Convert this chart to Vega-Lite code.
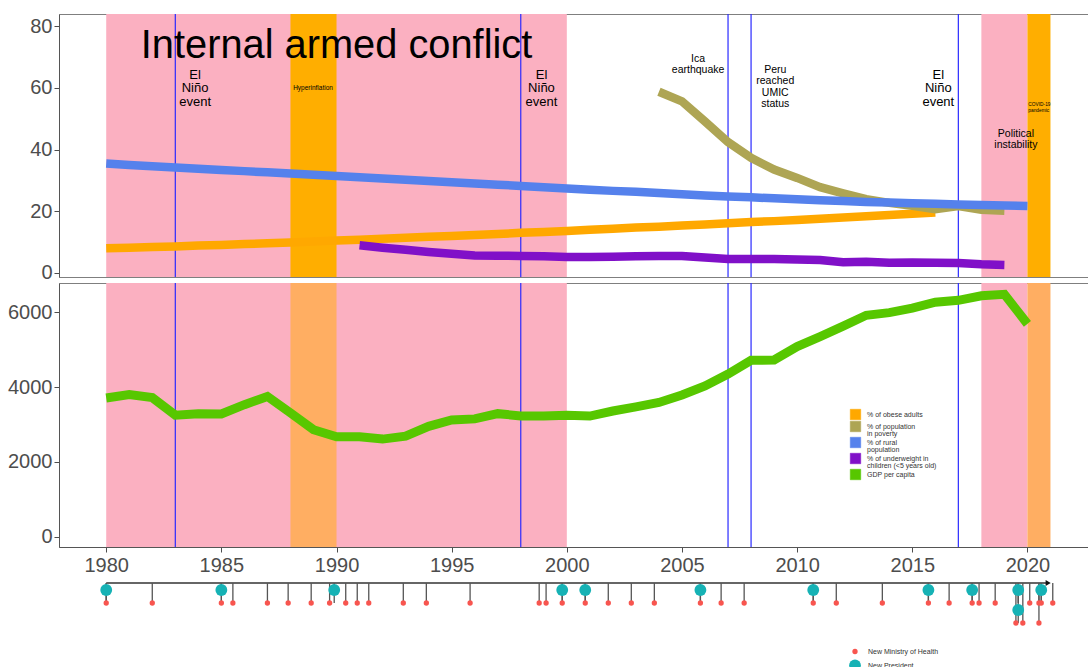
{
  "$schema": "https://vega.github.io/schema/vega-lite/v6.json",
  "padding": {"left": 6, "top": 12, "right": 0, "bottom": 0},
  "spacing": 6,
  "bounds": "flush",
  "background": "white",
  "config": {
    "font": "Liberation Sans",
    "concat": {"spacing": 6},
    "view": {"stroke": "#7f7f7f", "strokeWidth": 1},
    "axis": {"labelFontSize": 20, "labelColor": "#4d4d4d", "labelFont": "Liberation Sans", "tickColor": "#4d4d4d", "domainColor": "#555555", "tickSize": 5, "grid": false, "labelPadding": 2, "title": null},
    "legend": {"labelFont": "Liberation Sans", "labelFontSize": 7, "labelColor": "#333333", "title": null}
  },
  "datasets": {
    "indicators": [
      {"year": 1980, "series": "% of obese adults", "value": 8.0},
      {"year": 1981, "series": "% of obese adults", "value": 8.2},
      {"year": 1982, "series": "% of obese adults", "value": 8.4},
      {"year": 1983, "series": "% of obese adults", "value": 8.6},
      {"year": 1984, "series": "% of obese adults", "value": 8.9},
      {"year": 1985, "series": "% of obese adults", "value": 9.1},
      {"year": 1986, "series": "% of obese adults", "value": 9.4},
      {"year": 1987, "series": "% of obese adults", "value": 9.6},
      {"year": 1988, "series": "% of obese adults", "value": 9.9},
      {"year": 1989, "series": "% of obese adults", "value": 10.2},
      {"year": 1990, "series": "% of obese adults", "value": 10.5},
      {"year": 1991, "series": "% of obese adults", "value": 10.8},
      {"year": 1992, "series": "% of obese adults", "value": 11.1},
      {"year": 1993, "series": "% of obese adults", "value": 11.4},
      {"year": 1994, "series": "% of obese adults", "value": 11.7},
      {"year": 1995, "series": "% of obese adults", "value": 12.0},
      {"year": 1996, "series": "% of obese adults", "value": 12.3},
      {"year": 1997, "series": "% of obese adults", "value": 12.6},
      {"year": 1998, "series": "% of obese adults", "value": 13.0},
      {"year": 1999, "series": "% of obese adults", "value": 13.3},
      {"year": 2000, "series": "% of obese adults", "value": 13.6},
      {"year": 2001, "series": "% of obese adults", "value": 14.0},
      {"year": 2002, "series": "% of obese adults", "value": 14.3},
      {"year": 2003, "series": "% of obese adults", "value": 14.7},
      {"year": 2004, "series": "% of obese adults", "value": 15.0},
      {"year": 2005, "series": "% of obese adults", "value": 15.4},
      {"year": 2006, "series": "% of obese adults", "value": 15.7},
      {"year": 2007, "series": "% of obese adults", "value": 16.1},
      {"year": 2008, "series": "% of obese adults", "value": 16.5},
      {"year": 2009, "series": "% of obese adults", "value": 16.8},
      {"year": 2010, "series": "% of obese adults", "value": 17.2},
      {"year": 2011, "series": "% of obese adults", "value": 17.6},
      {"year": 2012, "series": "% of obese adults", "value": 18.0},
      {"year": 2013, "series": "% of obese adults", "value": 18.4},
      {"year": 2014, "series": "% of obese adults", "value": 18.8},
      {"year": 2015, "series": "% of obese adults", "value": 19.2},
      {"year": 2016, "series": "% of obese adults", "value": 19.6},
      {"year": 2004, "series": "% of population in poverty", "value": 58.7},
      {"year": 2005, "series": "% of population in poverty", "value": 55.6},
      {"year": 2006, "series": "% of population in poverty", "value": 49.1},
      {"year": 2007, "series": "% of population in poverty", "value": 42.4},
      {"year": 2008, "series": "% of population in poverty", "value": 37.3},
      {"year": 2009, "series": "% of population in poverty", "value": 33.5},
      {"year": 2010, "series": "% of population in poverty", "value": 30.8},
      {"year": 2011, "series": "% of population in poverty", "value": 27.8},
      {"year": 2012, "series": "% of population in poverty", "value": 25.8},
      {"year": 2013, "series": "% of population in poverty", "value": 23.9},
      {"year": 2014, "series": "% of population in poverty", "value": 22.7},
      {"year": 2015, "series": "% of population in poverty", "value": 21.8},
      {"year": 2016, "series": "% of population in poverty", "value": 20.7},
      {"year": 2017, "series": "% of population in poverty", "value": 21.7},
      {"year": 2018, "series": "% of population in poverty", "value": 20.5},
      {"year": 2019, "series": "% of population in poverty", "value": 20.2},
      {"year": 1980, "series": "% of rural population", "value": 35.5},
      {"year": 1981, "series": "% of rural population", "value": 35.0},
      {"year": 1982, "series": "% of rural population", "value": 34.6},
      {"year": 1983, "series": "% of rural population", "value": 34.2},
      {"year": 1984, "series": "% of rural population", "value": 33.8},
      {"year": 1985, "series": "% of rural population", "value": 33.4},
      {"year": 1986, "series": "% of rural population", "value": 33.0},
      {"year": 1987, "series": "% of rural population", "value": 32.6},
      {"year": 1988, "series": "% of rural population", "value": 32.2},
      {"year": 1989, "series": "% of rural population", "value": 31.8},
      {"year": 1990, "series": "% of rural population", "value": 31.4},
      {"year": 1991, "series": "% of rural population", "value": 31.0},
      {"year": 1992, "series": "% of rural population", "value": 30.6},
      {"year": 1993, "series": "% of rural population", "value": 30.2},
      {"year": 1994, "series": "% of rural population", "value": 29.8},
      {"year": 1995, "series": "% of rural population", "value": 29.4},
      {"year": 1996, "series": "% of rural population", "value": 29.0},
      {"year": 1997, "series": "% of rural population", "value": 28.6},
      {"year": 1998, "series": "% of rural population", "value": 28.2},
      {"year": 1999, "series": "% of rural population", "value": 27.8},
      {"year": 2000, "series": "% of rural population", "value": 27.4},
      {"year": 2001, "series": "% of rural population", "value": 27.0},
      {"year": 2002, "series": "% of rural population", "value": 26.6},
      {"year": 2003, "series": "% of rural population", "value": 26.3},
      {"year": 2004, "series": "% of rural population", "value": 25.9},
      {"year": 2005, "series": "% of rural population", "value": 25.5},
      {"year": 2006, "series": "% of rural population", "value": 25.1},
      {"year": 2007, "series": "% of rural population", "value": 24.8},
      {"year": 2008, "series": "% of rural population", "value": 24.5},
      {"year": 2009, "series": "% of rural population", "value": 24.2},
      {"year": 2010, "series": "% of rural population", "value": 23.9},
      {"year": 2011, "series": "% of rural population", "value": 23.6},
      {"year": 2012, "series": "% of rural population", "value": 23.3},
      {"year": 2013, "series": "% of rural population", "value": 23.0},
      {"year": 2014, "series": "% of rural population", "value": 22.8},
      {"year": 2015, "series": "% of rural population", "value": 22.6},
      {"year": 2016, "series": "% of rural population", "value": 22.4},
      {"year": 2017, "series": "% of rural population", "value": 22.2},
      {"year": 2018, "series": "% of rural population", "value": 22.0},
      {"year": 2019, "series": "% of rural population", "value": 21.9},
      {"year": 2020, "series": "% of rural population", "value": 21.7},
      {"year": 1991, "series": "% of underweight in children (<5 years old)", "value": 9.0},
      {"year": 1992, "series": "% of underweight in children (<5 years old)", "value": 8.2},
      {"year": 1993, "series": "% of underweight in children (<5 years old)", "value": 7.5},
      {"year": 1994, "series": "% of underweight in children (<5 years old)", "value": 6.8},
      {"year": 1995, "series": "% of underweight in children (<5 years old)", "value": 6.2},
      {"year": 1996, "series": "% of underweight in children (<5 years old)", "value": 5.7},
      {"year": 1997, "series": "% of underweight in children (<5 years old)", "value": 5.6},
      {"year": 1998, "series": "% of underweight in children (<5 years old)", "value": 5.5},
      {"year": 1999, "series": "% of underweight in children (<5 years old)", "value": 5.4},
      {"year": 2000, "series": "% of underweight in children (<5 years old)", "value": 5.2},
      {"year": 2001, "series": "% of underweight in children (<5 years old)", "value": 5.2},
      {"year": 2002, "series": "% of underweight in children (<5 years old)", "value": 5.3},
      {"year": 2003, "series": "% of underweight in children (<5 years old)", "value": 5.4},
      {"year": 2004, "series": "% of underweight in children (<5 years old)", "value": 5.5},
      {"year": 2005, "series": "% of underweight in children (<5 years old)", "value": 5.5},
      {"year": 2006, "series": "% of underweight in children (<5 years old)", "value": 5.0},
      {"year": 2007, "series": "% of underweight in children (<5 years old)", "value": 4.5},
      {"year": 2008, "series": "% of underweight in children (<5 years old)", "value": 4.5},
      {"year": 2009, "series": "% of underweight in children (<5 years old)", "value": 4.5},
      {"year": 2010, "series": "% of underweight in children (<5 years old)", "value": 4.4},
      {"year": 2011, "series": "% of underweight in children (<5 years old)", "value": 4.2},
      {"year": 2012, "series": "% of underweight in children (<5 years old)", "value": 3.5},
      {"year": 2013, "series": "% of underweight in children (<5 years old)", "value": 3.6},
      {"year": 2014, "series": "% of underweight in children (<5 years old)", "value": 3.3},
      {"year": 2015, "series": "% of underweight in children (<5 years old)", "value": 3.4},
      {"year": 2016, "series": "% of underweight in children (<5 years old)", "value": 3.3},
      {"year": 2017, "series": "% of underweight in children (<5 years old)", "value": 3.2},
      {"year": 2018, "series": "% of underweight in children (<5 years old)", "value": 2.8},
      {"year": 2019, "series": "% of underweight in children (<5 years old)", "value": 2.6},
      {"year": 1980, "series": "GDP per capita", "value": 3710},
      {"year": 1981, "series": "GDP per capita", "value": 3800},
      {"year": 1982, "series": "GDP per capita", "value": 3720},
      {"year": 1983, "series": "GDP per capita", "value": 3250},
      {"year": 1984, "series": "GDP per capita", "value": 3290},
      {"year": 1985, "series": "GDP per capita", "value": 3280},
      {"year": 1986, "series": "GDP per capita", "value": 3530},
      {"year": 1987, "series": "GDP per capita", "value": 3750},
      {"year": 1988, "series": "GDP per capita", "value": 3310},
      {"year": 1989, "series": "GDP per capita", "value": 2860},
      {"year": 1990, "series": "GDP per capita", "value": 2670},
      {"year": 1991, "series": "GDP per capita", "value": 2670},
      {"year": 1992, "series": "GDP per capita", "value": 2610},
      {"year": 1993, "series": "GDP per capita", "value": 2690},
      {"year": 1994, "series": "GDP per capita", "value": 2950},
      {"year": 1995, "series": "GDP per capita", "value": 3120},
      {"year": 1996, "series": "GDP per capita", "value": 3150},
      {"year": 1997, "series": "GDP per capita", "value": 3290},
      {"year": 1998, "series": "GDP per capita", "value": 3230},
      {"year": 1999, "series": "GDP per capita", "value": 3225},
      {"year": 2000, "series": "GDP per capita", "value": 3250},
      {"year": 2001, "series": "GDP per capita", "value": 3225},
      {"year": 2002, "series": "GDP per capita", "value": 3360},
      {"year": 2003, "series": "GDP per capita", "value": 3470},
      {"year": 2004, "series": "GDP per capita", "value": 3590},
      {"year": 2005, "series": "GDP per capita", "value": 3790},
      {"year": 2006, "series": "GDP per capita", "value": 4030},
      {"year": 2007, "series": "GDP per capita", "value": 4350},
      {"year": 2008, "series": "GDP per capita", "value": 4715},
      {"year": 2009, "series": "GDP per capita", "value": 4725},
      {"year": 2010, "series": "GDP per capita", "value": 5085},
      {"year": 2011, "series": "GDP per capita", "value": 5350},
      {"year": 2012, "series": "GDP per capita", "value": 5630},
      {"year": 2013, "series": "GDP per capita", "value": 5920},
      {"year": 2014, "series": "GDP per capita", "value": 5990},
      {"year": 2015, "series": "GDP per capita", "value": 6110},
      {"year": 2016, "series": "GDP per capita", "value": 6270},
      {"year": 2017, "series": "GDP per capita", "value": 6320},
      {"year": 2018, "series": "GDP per capita", "value": 6440},
      {"year": 2019, "series": "GDP per capita", "value": 6480},
      {"year": 2020, "series": "GDP per capita", "value": 5690}
    ],
    "periods": [
      {"start": 1980, "end": 2000, "kind": "conflict"},
      {"start": 2018, "end": 2020, "kind": "conflict"},
      {"start": 1988, "end": 1990, "kind": "crisis"},
      {"start": 2020, "end": 2021, "kind": "crisis"}
    ],
    "marks": [
      {"year": 1983}, {"year": 1998}, {"year": 2007}, {"year": 2008}, {"year": 2017}
    ],
    "notes": [
      {"year": 1990.0, "value": 69.6, "kind": "title", "label": "Internal armed conflict"},
      {"year": 1983.86, "value": 63.0, "kind": "elnino", "label": "El\nNiño\nevent"},
      {"year": 1998.9, "value": 63.0, "kind": "elnino", "label": "El\nNiño\nevent"},
      {"year": 2016.13, "value": 63.0, "kind": "elnino", "label": "El\nNiño\nevent"},
      {"year": 2005.7, "value": 68.4, "kind": "event", "label": "Ica\nearthquake"},
      {"year": 2009.05, "value": 64.7, "kind": "event", "label": "Peru\nreached\nUMIC\nstatus"},
      {"year": 2019.5, "value": 44.1, "kind": "event", "label": "Political\ninstability"},
      {"year": 1988.98, "value": 59.3, "kind": "small", "label": "Hyperinflation"},
      {"year": 2020.04, "value": 54.1, "kind": "tiny", "label": "COVID-19\npandemic"}
    ],
    "tl_axis": [{"from": 1980, "to": 2020.9}],
    "timeline": [
      {"year": 1980.0, "event": "New Ministry of Health", "row": 1},
      {"year": 1982.0, "event": "New Ministry of Health", "row": 1},
      {"year": 1985.0, "event": "New Ministry of Health", "row": 1},
      {"year": 1985.5, "event": "New Ministry of Health", "row": 1},
      {"year": 1987.0, "event": "New Ministry of Health", "row": 1},
      {"year": 1987.9, "event": "New Ministry of Health", "row": 1},
      {"year": 1988.9, "event": "New Ministry of Health", "row": 1},
      {"year": 1989.7, "event": "New Ministry of Health", "row": 1},
      {"year": 1990.4, "event": "New Ministry of Health", "row": 1},
      {"year": 1990.9, "event": "New Ministry of Health", "row": 1},
      {"year": 1991.4, "event": "New Ministry of Health", "row": 1},
      {"year": 1992.9, "event": "New Ministry of Health", "row": 1},
      {"year": 1993.9, "event": "New Ministry of Health", "row": 1},
      {"year": 1995.8, "event": "New Ministry of Health", "row": 1},
      {"year": 1998.8, "event": "New Ministry of Health", "row": 1},
      {"year": 1999.1, "event": "New Ministry of Health", "row": 1},
      {"year": 1999.8, "event": "New Ministry of Health", "row": 1},
      {"year": 2000.8, "event": "New Ministry of Health", "row": 1},
      {"year": 2001.8, "event": "New Ministry of Health", "row": 1},
      {"year": 2002.8, "event": "New Ministry of Health", "row": 1},
      {"year": 2003.8, "event": "New Ministry of Health", "row": 1},
      {"year": 2005.8, "event": "New Ministry of Health", "row": 1},
      {"year": 2006.7, "event": "New Ministry of Health", "row": 1},
      {"year": 2007.7, "event": "New Ministry of Health", "row": 1},
      {"year": 2010.7, "event": "New Ministry of Health", "row": 1},
      {"year": 2011.7, "event": "New Ministry of Health", "row": 1},
      {"year": 2013.7, "event": "New Ministry of Health", "row": 1},
      {"year": 2015.7, "event": "New Ministry of Health", "row": 1},
      {"year": 2016.6, "event": "New Ministry of Health", "row": 1},
      {"year": 2017.6, "event": "New Ministry of Health", "row": 1},
      {"year": 2017.9, "event": "New Ministry of Health", "row": 1},
      {"year": 2018.6, "event": "New Ministry of Health", "row": 1},
      {"year": 2019.5, "event": "New Ministry of Health", "row": 2},
      {"year": 2019.8, "event": "New Ministry of Health", "row": 2},
      {"year": 2020.1, "event": "New Ministry of Health", "row": 1},
      {"year": 2020.5, "event": "New Ministry of Health", "row": 1},
      {"year": 2020.5, "event": "New Ministry of Health", "row": 2},
      {"year": 2020.6, "event": "New Ministry of Health", "row": 1},
      {"year": 2021.1, "event": "New Ministry of Health", "row": 1},
      {"year": 1980.0, "event": "New President", "row": 1},
      {"year": 1985.0, "event": "New President", "row": 1},
      {"year": 1989.9, "event": "New President", "row": 1},
      {"year": 1999.8, "event": "New President", "row": 1},
      {"year": 2000.8, "event": "New President", "row": 1},
      {"year": 2005.8, "event": "New President", "row": 1},
      {"year": 2010.7, "event": "New President", "row": 1},
      {"year": 2015.7, "event": "New President", "row": 1},
      {"year": 2017.6, "event": "New President", "row": 1},
      {"year": 2019.6, "event": "New President", "row": 1},
      {"year": 2019.6, "event": "New President", "row": 2},
      {"year": 2020.6, "event": "New President", "row": 1}
    ]
  },
  "vconcat": [
    {
      "width": 1029,
      "height": 263,
      "layer": [
        {
          "data": {"name": "periods"},
          "transform": [{"filter": "datum.kind === 'conflict'"}],
          "mark": {"type": "rect", "color": "#fbb0c1", "opacity": 1},
          "encoding": {
            "x": {"field": "start", "type": "quantitative", "scale": {"domain": [1977.95, 2022.63], "nice": false, "zero": false}, "axis": null},
            "x2": {"field": "end"}
          }
        },
        {
          "data": {"name": "periods"},
          "transform": [{"filter": "datum.kind === 'crisis'"}],
          "mark": {"type": "rect", "color": "#ffae00", "opacity": 1},
          "encoding": {
            "x": {"field": "start", "type": "quantitative", "axis": null},
            "x2": {"field": "end"}
          }
        },
        {
          "data": {"name": "marks"},
          "mark": {"type": "rule", "color": "#2a2aff", "strokeWidth": 1.2},
          "encoding": {
            "x": {"field": "year", "type": "quantitative", "axis": null}
          }
        },
        {
          "data": {"name": "indicators"},
          "transform": [{"filter": "datum.series !== 'GDP per capita'"}],
          "mark": {"type": "line", "strokeWidth": 8.5},
          "encoding": {
            "x": {"field": "year", "type": "quantitative", "axis": null},
            "y": {"field": "value", "type": "quantitative", "scale": {"domain": [-1.3, 83.9], "nice": false, "zero": false}, "axis": {"values": [0, 20, 40, 60, 80], "minExtent": 52, "maxExtent": 52}},
            "color": {
              "field": "series", "type": "nominal",
              "scale": {"domain": ["% of obese adults", "% of population in poverty", "% of rural population", "% of underweight in children (<5 years old)", "GDP per capita"], "range": ["#ffa800", "#aea554", "#5581ec", "#8010c8", "#57c700"]},
              "legend": {
                "orient": "none", "legendX": 791, "legendY": 395, "title": null,
                "symbolType": "square", "symbolSize": 110, "symbolStrokeWidth": 0.5,
                "labelFontSize": 7, "labelColor": "#333333", "labelOffset": 6, "rowPadding": -3.5,
                "labelExpr": "datum.label == '% of population in poverty' ? ['% of population', 'in poverty'] : datum.label == '% of rural population' ? ['% of rural', ' population'] : datum.label == '% of underweight in children (<5 years old)' ? ['% of underweight in', 'children (<5 years old)'] : datum.label",
                "encode": {
                  "symbols": {"update": {"fill": {"scale": "color", "field": "value"}, "stroke": {"scale": "color", "field": "value"}, "opacity": {"value": 1}}},
                  "labels": {"update": {"lineHeight": {"value": 7.5}}}
                }
              }
            }
          }
        },
        {
          "data": {"name": "notes"},
          "transform": [{"filter": "datum.kind === 'title'"}],
          "mark": {"type": "text", "fontSize": 39.8, "align": "center", "baseline": "alphabetic", "color": "#000000"},
          "encoding": {
            "x": {"field": "year", "type": "quantitative", "axis": null},
            "y": {"field": "value", "type": "quantitative"},
            "text": {"field": "label"}
          }
        },
        {
          "data": {"name": "notes"},
          "transform": [{"filter": "datum.kind === 'elnino'"}],
          "mark": {"type": "text", "fontSize": 13, "lineHeight": 13.5, "lineBreak": "\n", "align": "center", "baseline": "alphabetic", "color": "#000000"},
          "encoding": {
            "x": {"field": "year", "type": "quantitative", "axis": null},
            "y": {"field": "value", "type": "quantitative"},
            "text": {"field": "label"}
          }
        },
        {
          "data": {"name": "notes"},
          "transform": [{"filter": "datum.kind === 'event'"}],
          "mark": {"type": "text", "fontSize": 10.5, "lineHeight": 11.2, "lineBreak": "\n", "align": "center", "baseline": "alphabetic", "color": "#000000"},
          "encoding": {
            "x": {"field": "year", "type": "quantitative", "axis": null},
            "y": {"field": "value", "type": "quantitative"},
            "text": {"field": "label"}
          }
        },
        {
          "data": {"name": "notes"},
          "transform": [{"filter": "datum.kind === 'small'"}],
          "mark": {"type": "text", "fontSize": 6.5, "align": "center", "baseline": "alphabetic", "color": "#000000"},
          "encoding": {
            "x": {"field": "year", "type": "quantitative", "axis": null},
            "y": {"field": "value", "type": "quantitative"},
            "text": {"field": "label"}
          }
        },
        {
          "data": {"name": "notes"},
          "transform": [{"filter": "datum.kind === 'tiny'"}],
          "mark": {"type": "text", "fontSize": 4.8, "lineHeight": 5.6, "lineBreak": "\n", "align": "left", "baseline": "alphabetic", "color": "#000000"},
          "encoding": {
            "x": {"field": "year", "type": "quantitative", "axis": null},
            "y": {"field": "value", "type": "quantitative"},
            "text": {"field": "label"}
          }
        }
      ]
    },
    {
      "width": 1029,
      "height": 264,
      "resolve": {"scale": {"y": "independent"}, "axis": {"y": "independent"}},
      "layer": [
        {
          "data": {"name": "periods"},
          "transform": [{"filter": "datum.kind === 'conflict'"}],
          "mark": {"type": "rect", "color": "#fbb0c1", "opacity": 1},
          "encoding": {
            "x": {"field": "start", "type": "quantitative", "scale": {"domain": [1977.95, 2022.63], "nice": false, "zero": false}},
            "x2": {"field": "end"}
          }
        },
        {
          "data": {"name": "periods"},
          "transform": [{"filter": "datum.kind === 'crisis'"}],
          "mark": {"type": "rect", "color": "#ffae62", "opacity": 1},
          "encoding": {
            "x": {"field": "start", "type": "quantitative"},
            "x2": {"field": "end"}
          }
        },
        {
          "data": {"name": "marks"},
          "mark": {"type": "rule", "color": "#2a2aff", "strokeWidth": 1.2},
          "encoding": {
            "x": {"field": "year", "type": "quantitative"}
          }
        },
        {
          "data": {"name": "indicators"},
          "transform": [{"filter": "datum.series === 'GDP per capita'"}],
          "mark": {"type": "line", "strokeWidth": 9},
          "encoding": {
            "x": {"field": "year", "type": "quantitative", "axis": {"values": [1980, 1985, 1990, 1995, 2000, 2005, 2010, 2015, 2020], "format": "d", "labelPadding": 3}},
            "y": {"field": "value", "type": "quantitative", "scale": {"domain": [-275, 6783], "nice": false, "zero": false}, "axis": {"values": [0, 2000, 4000, 6000], "format": "d", "minExtent": 52, "maxExtent": 52}},
            "color": {"field": "series", "type": "nominal"}
          }
        },
        {
          "layer": [
            {
              "data": {"name": "tl_axis"},
              "mark": {"type": "rule", "color": "#333333", "strokeWidth": 1.3},
              "encoding": {
                "x": {"field": "from", "type": "quantitative"},
                "x2": {"field": "to"},
                "y": {"datum": 0, "type": "quantitative", "scale": {"domain": [-15, -1.8], "reverse": true, "nice": false, "zero": false}, "axis": null}
              }
            },
            {
              "data": {"name": "tl_axis"},
              "mark": {"type": "point", "shape": "triangle-right", "filled": true, "color": "#111111", "size": 35, "opacity": 1},
              "encoding": {
                "x": {"field": "to", "type": "quantitative"},
                "y": {"datum": 0, "type": "quantitative"}
              }
            },
            {
              "data": {"name": "timeline"},
              "mark": {"type": "rule", "color": "#555555", "strokeWidth": 1.3},
              "encoding": {
                "x": {"field": "year", "type": "quantitative"},
                "y": {"field": "row", "type": "quantitative"},
                "y2": {"datum": 0}
              }
            },
            {
              "data": {"name": "timeline"},
              "transform": [{"filter": "datum.event === 'New President'"}],
              "mark": {"type": "circle", "opacity": 1, "yOffset": -13},
              "encoding": {
                "x": {"field": "year", "type": "quantitative"},
                "y": {"field": "row", "type": "quantitative"},
                "fill": {"field": "event", "type": "nominal", "scale": {"domain": ["New Ministry of Health", "New President"], "range": ["#f8554f", "#16b2b5"]},
                  "legend": {"orient": "none", "legendX": 789, "legendY": 634, "title": null, "symbolType": "circle", "labelFontSize": 7, "labelColor": "#333333", "labelOffset": 6, "rowPadding": -1.5, "symbolOpacity": 1}},
                "size": {"field": "event", "type": "nominal", "scale": {"domain": ["New Ministry of Health", "New President"], "range": [28, 140]}}
              }
            },
            {
              "data": {"name": "timeline"},
              "transform": [{"filter": "datum.event === 'New Ministry of Health'"}],
              "mark": {"type": "circle", "opacity": 1},
              "encoding": {
                "x": {"field": "year", "type": "quantitative"},
                "y": {"field": "row", "type": "quantitative"},
                "fill": {"field": "event", "type": "nominal"},
                "size": {"field": "event", "type": "nominal"}
              }
            }
          ]
        }
      ]
    }
  ]
}
